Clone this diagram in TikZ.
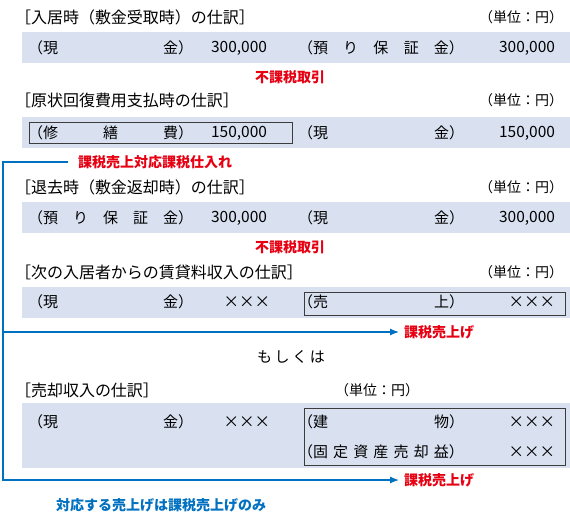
\documentclass[tikz,border=0pt]{standalone}
\usepackage{fontspec}
\setmainfont{Noto Sans CJK JP}
\usetikzlibrary{arrows.meta}
\definecolor{bandc}{RGB}{217,225,241}
\definecolor{blc}{RGB}{0,112,192}
\definecolor{rdc}{RGB}{230,0,18}
\definecolor{boxc}{RGB}{60,60,60}
\begin{document}
\begin{tikzpicture}[x=1pt,y=-1pt,
  every node/.style={inner sep=0pt,outer sep=0pt},
  head/.style={font=\fontsize{16pt}{19pt}\selectfont,anchor=west},
  unit/.style={font=\fontsize{14pt}{17pt}\selectfont,anchor=east},
  ent/.style={font=\fontsize{15pt}{18pt}\selectfont,anchor=west},
  amt/.style={font=\fontsize{15.5pt}{18pt}\selectfont,anchor=east},
  rnote/.style={font=\fontsize{14pt}{17pt}\selectfont\bfseries,text=rdc},
  bnote/.style={font=\fontsize{14pt}{17pt}\selectfont\bfseries,text=blc},
  frame/.style={draw=boxc,line width=1pt},
  bl/.style={draw=blc,line width=1.2pt},
  blarrow/.style={bl,-{Latex[length=9pt,width=7pt]}}]
\useasboundingbox (0,0) rectangle (570,522);
% bands
\fill[bandc] (22,32) rectangle (570,63);
\fill[bandc] (22,117) rectangle (570,148);
\fill[bandc] (22,202) rectangle (570,233);
\fill[bandc] (22,287) rectangle (570,318);
\fill[bandc] (22,403) rectangle (570,468);
% frames
\draw[frame] (29,122) rectangle (292,143);
\draw[frame] (304,292) rectangle (565,315);
\draw[frame] (304,408) rectangle (565,465);
% block 1
\node[head] (h1) at (15,17) {［入居時（敷金受取時）の仕訳］};
\node[unit] (u1) at (563,17) {（単位：円）};
\node[ent] (a1) at (28,48) {\makebox[165pt][s]{（現 金）}};
\node[amt] (m1) at (267,48) {300,000};
\node[ent] (b1) at (298,48) {\makebox[166pt][s]{（預 り 保 証 金）}};
\node[amt] (n1) at (555,48) {300,000};
\node[rnote] (r1) at (290,77) {不課税取引};
% block 2
\node[head] (h2) at (15,100) {［原状回復費用支払時の仕訳］};
\node[unit] (u2) at (563,100) {（単位：円）};
\node[ent] (a2) at (28,133) {\makebox[165pt][s]{（修 繕 費）}};
\node[amt] (m2) at (267,133) {150,000};
\node[ent] (b2) at (298,133) {\makebox[166pt][s]{（現 金）}};
\node[amt] (n2) at (555,133) {150,000};
\node[rnote,anchor=west] (tp) at (78,162) {課税売上対応課税仕入れ};
% block 3
\node[head] (h3) at (15,187) {［退去時（敷金返却時）の仕訳］};
\node[unit] (u3) at (563,187) {（単位：円）};
\node[ent] (a3) at (28,218) {\makebox[165pt][s]{（預 り 保 証 金）}};
\node[amt] (m3) at (267,218) {300,000};
\node[ent] (b3) at (298,218) {\makebox[166pt][s]{（現 金）}};
\node[amt] (n3) at (555,218) {300,000};
\node[rnote] (r3) at (290,247) {不課税取引};
% block 4
\node[head] (h4) at (15,272) {［次の入居者からの賃貸料収入の仕訳］};
\node[unit] (u4) at (563,272) {（単位：円）};
\node[ent] (a4) at (28,302) {\makebox[165pt][s]{（現 金）}};
\node[amt] (m4) at (270,302) {×××};
\node[ent] (b4) at (298,302) {\makebox[166pt][s]{（売 上）}};
\node[amt] (n4) at (555,302) {×××};
\node[rnote,anchor=west] (sa1) at (404,332) {課税売上げ};
% or
\node[font=\fontsize{15pt}{18pt}\selectfont] (or) at (291,357) {\makebox[68pt][s]{も し く は}};
% block 5
\node[head] (h5) at (15,390) {［売却収入の仕訳］};
\node[unit] (u5) at (419,390) {（単位：円）};
\node[ent] (a5) at (28,422) {\makebox[165pt][s]{（現 金）}};
\node[amt] (m5) at (270,422) {×××};
\node[ent] (b5) at (298,422) {\makebox[166pt][s]{（建 物）}};
\node[amt] (n5) at (555,422) {×××};
\node[ent] (b6) at (298,452) {\makebox[166pt][s]{（固 定 資 産 売 却 益）}};
\node[amt] (n6) at (555,452) {×××};
\node[rnote,anchor=west] (sa2) at (404,480) {課税売上げ};
\node[bnote,anchor=west] (bt) at (56,505) {対応する売上げは課税売上げのみ};
% connectors
\coordinate (c0) at (3,162);
\coordinate (c1) at (3,332);
\coordinate (c2) at (3,480);
\draw[blarrow] ([xshift=-10pt]tp.west) -- (c0) -- (c2) -- ([xshift=-5pt]sa2.west);
\draw[blarrow] (c1) -- ([xshift=-5pt]sa1.west);
\end{tikzpicture}
\end{document}
